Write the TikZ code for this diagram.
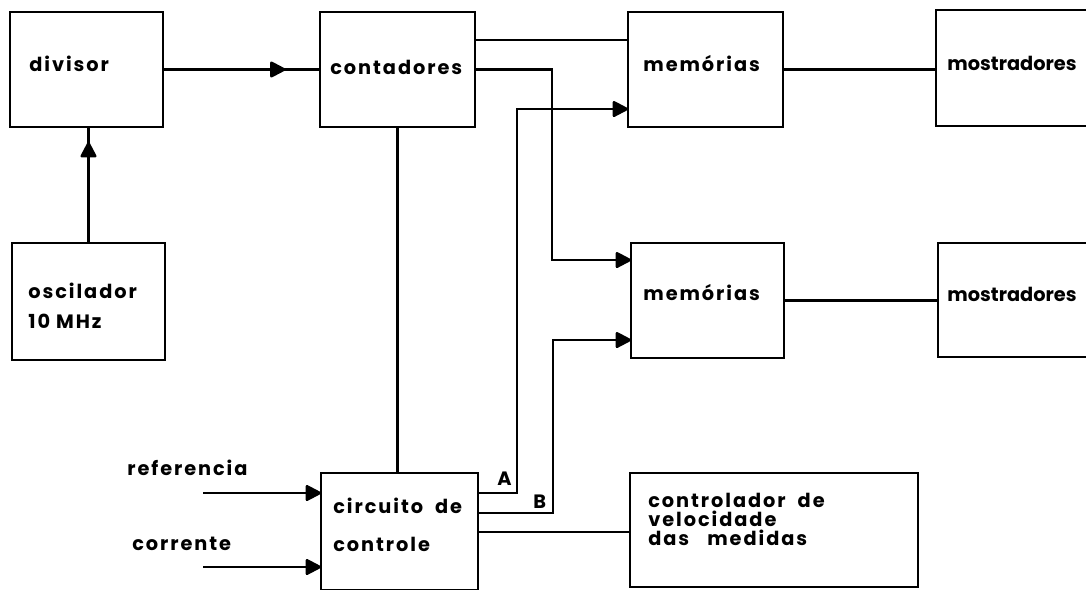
\documentclass[tikz,border=0pt]{standalone}
\usepackage{fontspec}
\setmainfont{Poppins}[LetterSpace=10]
\usetikzlibrary{arrows.meta,decorations.markings,calc}
\begin{document}
\begin{tikzpicture}[x=0.02cm,y=-0.02cm,
  box/.style={draw, line width=1.6pt, inner sep=0pt, outer sep=0pt},
  conn/.style={line width=1.5pt},
  tip/.style={-{Triangle[length=0.34cm,width=0.34cm,round]}},
  midarrow/.style={postaction={decorate},decoration={markings,
     mark=at position #1 with {\arrow{Triangle[length=0.34cm,width=0.34cm,round]}}}},
  lbl/.style={anchor=base west, inner sep=0pt, font=\fontsize{11}{13}\selectfont\bfseries}]
\useasboundingbox (0,0) rectangle (1086,589);
% boxes
\node[box, minimum width=3.06cm, minimum height=2.30cm] (div)  at (86.5,69.5) {};
\node[box, minimum width=3.10cm, minimum height=2.30cm] (cont) at (397.5,69.5) {};
\node[box, minimum width=3.10cm, minimum height=2.30cm] (mem1) at (705.5,69.5) {};
\node[box, minimum width=3.28cm, minimum height=2.32cm] (most1) at (1018,68) {};
\node[box, minimum width=3.06cm, minimum height=2.34cm] (osc)  at (88.5,301.5) {};
\node[box, minimum width=3.06cm, minimum height=2.30cm] (mem2) at (707.5,300.5) {};
\node[box, minimum width=3.24cm, minimum height=2.28cm] (most2) at (1019,300) {};
\node[box, minimum width=3.14cm, minimum height=2.34cm] (circ) at (399.5,531.5) {};
\node[box, minimum width=5.76cm, minimum height=2.28cm] (ctrl) at (774,530) {};
% texts
\node[lbl] (tdiv) at (29,71) {divisor};
\node[lbl] (tcont) at (330,74) {contadores};
\node[lbl] (tmem1) at (643,71) {memórias};
\node[lbl] (tmost1) at (947,70) {\addfontfeatures{LetterSpace=0}mostradores};
\node[lbl] (tosc1) at (28,298) {oscilador};
\node[lbl] (tosc2) at (28,328) {10 MHz};
\node[lbl] (tmem2) at (643,300) {memórias};
\node[lbl] (tmost2) at (947,301) {\addfontfeatures{LetterSpace=0}mostradores};
\node[lbl] (tcirc1) at (333,513) {circuito\ \ de};
\node[lbl] (tcirc2) at (333,551) {controle};
\node[lbl] (tctrl1) at (648,507) {controlador\ \ de};
\node[lbl] (tctrl2) at (648,526) {velocidade};
\node[lbl] (tctrl3) at (648,545) {das\ \ \ medidas};
\node[lbl] (tref) at (127,475) {referencia};
\node[lbl] (tcor) at (132,550) {corrente};
\node[lbl] (tA) at (497,485) {A};
\node[lbl] (tB) at (533,508) {B};
% coordinates
\coordinate (t1) at ($(cont.north east)+(0,28)$);
\coordinate (m1a) at ($(mem1.north west)+(0,97)$);
\coordinate (m2a) at ($(mem2.north west)+(0,17)$);
\coordinate (m2b) at ($(mem2.north west)+(0,97)$);
\coordinate (jC) at (552,0);
\coordinate (jA) at (517,0);
\coordinate (jB) at (553,0);
\coordinate (cA) at ($(circ.north east)+(0,20)$);
\coordinate (cB) at ($(circ.north east)+(0,40)$);
\coordinate (cC) at ($(circ.north east)+(0,59)$);
\coordinate (r0) at (203,493);
\coordinate (c0) at (203,567);
% connectors
\draw[conn, midarrow=0.78] (div.east) -- (cont.west);
\draw[conn, midarrow=0.87] (osc.north) -- (osc.north |- div.south);
\draw[conn] (cont.south) -- (cont.south |- circ.north);
\draw[conn] (t1) -- (t1 -| mem1.west);
\draw[conn, tip] (cont.east) -- (cont.east -| jC) -- (jC |- m2a) -- (m2a);
\draw[conn, tip] (cA) -- (cA -| jA) -- (jA |- m1a) -- (m1a);
\draw[conn, tip] (cB) -- (cB -| jB) -- (jB |- m2b) -- (m2b);
\draw[conn] (cC) -- (cC -| ctrl.west);
\draw[conn] (mem1.east) -- (mem1.east -| most1.west);
\draw[conn] (mem2.east) -- (mem2.east -| most2.west);
\draw[conn, tip] (r0) -- (r0 -| circ.west);
\draw[conn, tip] (c0) -- (c0 -| circ.west);
\end{tikzpicture}
\end{document}
